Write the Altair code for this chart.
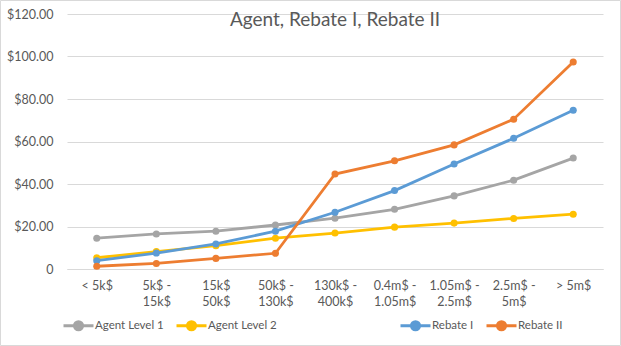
import altair as alt
import pandas as pd

categories = ["< 5k$", "5k$ -\n15k$", "15k$\n50k$", "50k$ -\n130k$", "130k$ -\n400k$",
              "0.4m$ -\n1.05m$", "1.05m$ -\n2.5m$", "2.5m$ -\n5m$", "> 5m$"]
agent_level_1 = [14.5, 16.5, 17.8, 20.7, 23.9, 28.1, 34.4, 41.8, 52.2]
agent_level_2 = [5.3, 8.2, 11.0, 14.5, 16.9, 19.7, 21.6, 23.8, 25.8]
rebate_1 = [3.9, 7.5, 11.8, 17.8, 26.7, 36.9, 49.4, 61.5, 74.7]
rebate_2 = [1.3, 2.6, 5.0, 7.4, 44.7, 50.9, 58.4, 70.5, 97.4]

agent_names = ["Agent Level 1", "Agent Level 2"]
rebate_names = ["Rebate I", "Rebate II"]
agent_colors = ["#A5A5A5", "#FFC000"]
rebate_colors = ["#5B9BD5", "#ED7D31"]

def long(names, series):
    rows = []
    for n, vals in zip(names, series):
        for i, (c, v) in enumerate(zip(categories, vals)):
            rows.append({"cat": c, "idx": i, "series": n, "value": v})
    return pd.DataFrame(rows)

df_a = long(agent_names, [agent_level_1, agent_level_2])
df_b = long(rebate_names, [rebate_1, rebate_2])

FONT = "Lato"
GRAY = "#595959"
SYM = "M-1,0H-0.27A0.27,0.27,0,1,1,0.27,0A0.27,0.27,0,1,1,-0.27,0M0.27,0H1"

x_enc = alt.X("cat:N", sort=categories, scale=alt.Scale(type="point", padding=0.5),
              axis=alt.Axis(title=None, labelAngle=0, labelExpr="split(datum.label, '\\n')",
                            labelLineHeight=16, labelPadding=10, ticks=False,
                            domainColor="#D9D9D9", labelColor=GRAY, labelFontSize=12.5,
                            labelFont=FONT))
y_enc = alt.Y("value:Q", scale=alt.Scale(domain=[0, 120]),
              axis=alt.Axis(title=None, values=[0, 20, 40, 60, 80, 100, 120],
                            labelExpr="datum.value == 0 ? '0' : format(datum.value, '$.2f')",
                            ticks=False, domain=False, gridColor="#D9D9D9", labelPadding=14,
                            labelColor=GRAY, labelFontSize=12.5, labelFont=FONT))

def group(df, names, colors, lx):
    color = alt.Color("series:N", scale=alt.Scale(domain=names, range=colors),
                      legend=alt.Legend(title=None, orient="none", legendX=lx, legendY=295,
                                        direction="horizontal", symbolType=SYM, symbolSize=900,
                                        symbolStrokeWidth=3, labelFontSize=11.5, labelColor=GRAY,
                                        labelFont=FONT, labelOffset=0, columnPadding=6))
    base = alt.Chart(df).encode(x=x_enc, y=y_enc, color=color, detail="series:N",
                                order="idx:Q")
    line = base.mark_line(strokeWidth=2.8)
    pts = base.mark_point(filled=True, size=50, opacity=1)
    return alt.layer(line, pts)

g1 = group(df_a, agent_names, agent_colors, -5)
g2 = group(df_b, rebate_names, rebate_colors, 332)

frame = alt.Chart(pd.DataFrame({"f": [0]})).mark_rect(
    fill=None, stroke="#D9D9D9", strokeWidth=1, clip=False
).encode(x=alt.value(-66.5), x2=alt.value(553.5), y=alt.value(-13.5), y2=alt.value(331.5))

chart = alt.layer(frame, g1, g2).resolve_scale(color="independent").resolve_legend(color="independent").properties(
    width=536, height=255,
    title=alt.Title("Agent, Rebate I, Rebate II", fontSize=19, font=FONT, color=GRAY,
                    fontWeight="normal", anchor="middle", baseline="top", offset=0, dy=30),
    autosize=alt.AutoSizeParams(type="none"),
    padding={"left": 67, "top": 14, "right": 18, "bottom": 77},
).configure_view(stroke=None)

chart.save("out.html", embed_options={"renderer": "svg", "actions": False})
